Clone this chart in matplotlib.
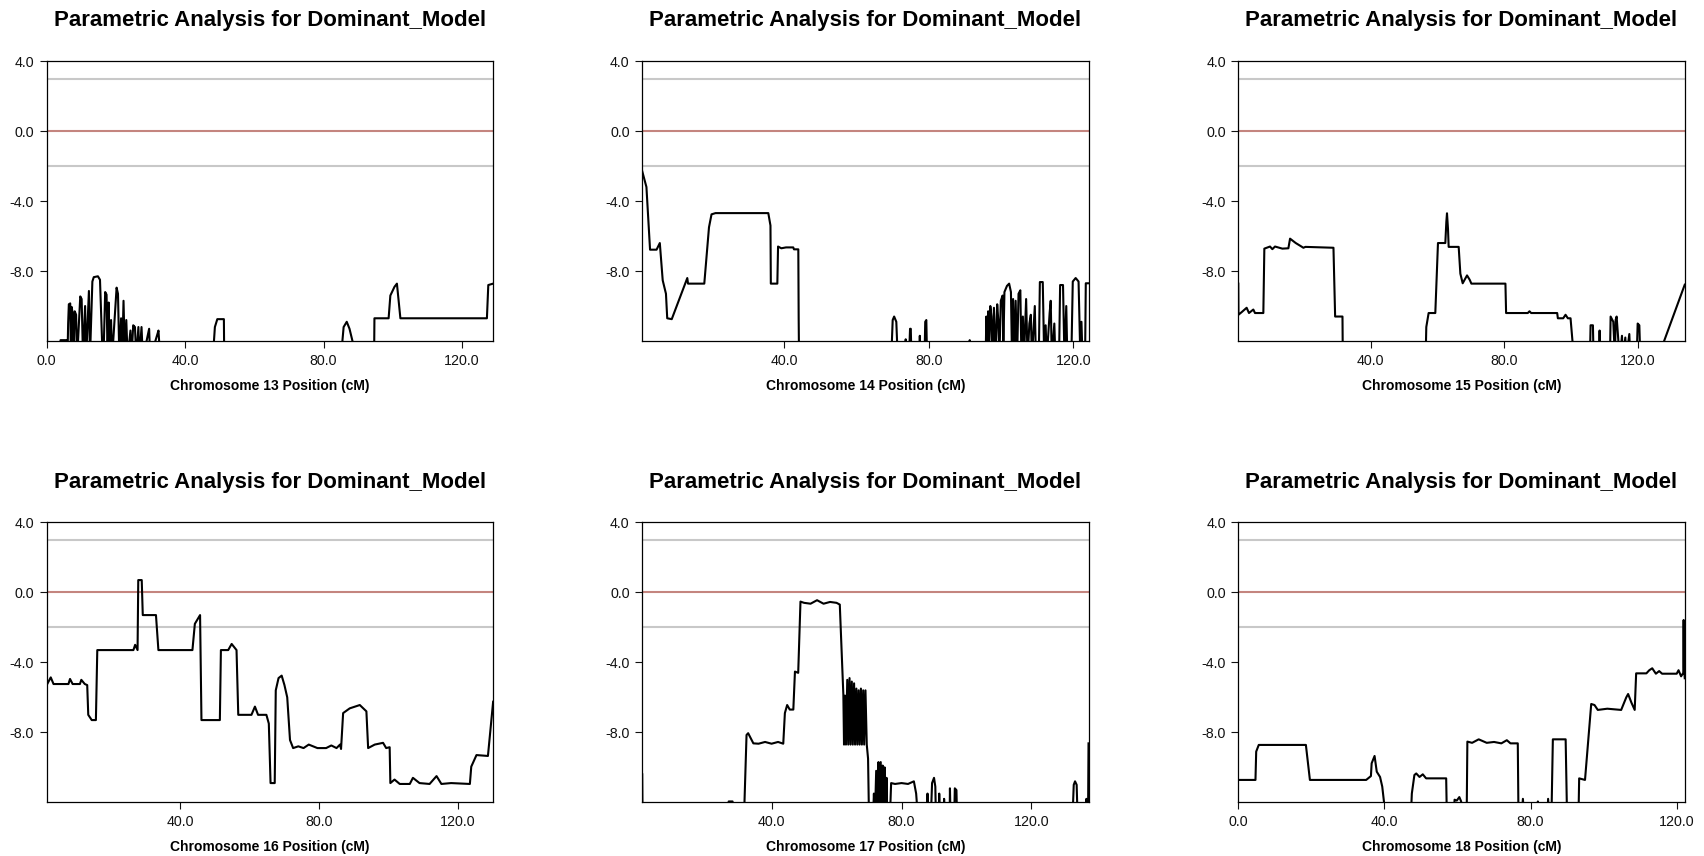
import matplotlib
matplotlib.use("Agg")
import matplotlib.pyplot as plt
from matplotlib.ticker import MultipleLocator, FormatStrFormatter

plt.rcParams["font.family"] = ["Liberation Sans", "DejaVu Sans"]

# LOD curves per chromosome (position in cM, LOD). Values below the plot floor are set to -13.
pos13 = [0.0, 0.15, 3.8, 4.0, 5.8, 6.0, 6.2, 6.4, 6.8, 7.0, 7.2, 7.5, 7.8, 8.1, 8.5, 8.8,
         9.7, 10.1, 10.5, 11.1, 11.4, 12.2, 12.5, 13.2, 13.6, 14.8, 15.4, 16.0, 16.4,
         16.9, 17.3, 17.6, 17.9, 18.2, 18.6, 18.9, 20.2, 20.6, 21.0, 21.5, 21.8, 22.2, 22.6,
         23.0, 23.4, 24.2, 24.5, 25.0, 25.5, 25.9, 26.5, 26.8, 27.4, 27.8, 29.6, 29.9,
         32.0, 32.3, 32.8, 48.0, 48.6, 49.3, 51.2, 51.3, 85.0, 85.8, 86.7, 87.5, 88.6, 88.9,
         94.6, 94.7, 98.8, 99.3, 100.5, 101.2, 102.2, 127.2, 127.6, 129.0]
lod13 = [-7.7, -13, -13, -11.95, -11.95, -13, -11.0, -9.9, -9.85, -13, -10.05, -10.4, -13, -10.3, -10.5, -13,
         -9.45, -9.6, -13, -10.0, -13, -9.14, -13, -8.6, -8.35, -8.3, -8.5, -12, -13,
         -9.2, -9.35, -13, -9.8, -13, -10.8, -13, -8.95, -9.3, -13, -10.7, -13, -9.7, -13,
         -10.8, -13, -11.4, -13, -11.1, -11.2, -13, -11.2, -13, -11.2, -13, -11.3, -13,
         -11.6, -11.4, -13, -13, -11.2, -10.75, -10.75, -13, -13, -11.2, -10.9, -11.3, -12.2, -13,
         -13, -10.7, -10.7, -9.4, -8.9, -8.72, -10.7, -10.7, -8.8, -8.72]

pos14 = [0.74, 1.9, 2.9, 4.7, 5.6, 6.4, 7.3, 7.65, 8.9, 13.2, 13.4, 17.9, 19.2, 19.9, 21.0,
         35.6, 36.2, 36.3, 38.1, 38.3, 39.2, 40.5, 42.5, 42.7, 43.9, 44.0, 44.1,
         69.6, 70.0, 70.4, 71.0, 71.4, 73.4, 73.6, 73.8, 74.5, 74.8, 75.0, 75.2, 77.4, 77.5, 77.6,
         78.8, 79.0, 79.3, 79.5, 91.2, 91.3, 91.5,
         95.7, 95.9, 96.1, 96.4, 96.6, 97.0, 97.3, 97.6, 98.0, 98.4, 98.9, 99.2, 99.5, 99.9,
         100.4, 100.6, 100.9, 101.6, 102.2, 102.7, 103.0, 103.3, 103.6, 104.0, 104.4, 104.8,
         105.3, 105.6, 106.0, 106.3, 106.9, 107.3, 107.8, 108.2, 108.5, 109.3, 109.6, 110.4,
         110.7, 111.5, 111.9, 112.3, 112.6, 113.4, 113.7, 114.0, 114.7, 115.0, 116.0, 116.3,
         117.1, 117.5, 118.0, 118.3, 119.4, 119.8, 120.6, 121.4, 121.9, 122.2, 122.5, 123.2,
         123.4, 124.2]
lod14 = [-2.3, -3.2, -6.78, -6.78, -6.4, -8.53, -9.3, -10.7, -10.75, -8.4, -8.72, -8.72, -5.5, -4.76, -4.69,
         -4.69, -5.4, -8.72, -8.72, -6.6, -6.7, -6.65, -6.65, -6.76, -6.76, -10.7, -13,
         -13, -10.8, -10.6, -10.9, -13, -13, -11.9, -13, -13, -11.3, -11.3, -13, -13, -11.7, -13,
         -13, -10.9, -10.8, -13, -13, -11.95, -13,
         -13, -10.6, -12.5, -10.3, -13, -10.0, -10.6, -13, -10.1, -13, -9.9, -10.8, -13, -9.7,
         -9.4, -12.5, -9.2, -8.85, -8.72, -9.2, -13, -9.6, -13, -9.7, -13, -9.3,
         -9.1, -13, -10.6, -13, -9.6, -13, -11.0, -10.5, -13, -10.0, -13, -13,
         -8.63, -8.63, -13, -11.1, -13, -10.4, -9.7, -13, -11.0, -13, -13, -8.8,
         -8.8, -13, -10.0, -13, -13, -8.6, -8.4, -8.6, -13, -10.9, -13, -13,
         -8.7, -8.7]

pos15 = [0.3, 0.35, 1.3, 2.8, 3.5, 4.8, 5.3, 7.8, 8.1, 9.8, 10.5, 11.3, 13.5, 15.3, 15.8, 17.5,
         19.8, 20.4, 28.8, 29.3, 31.5, 31.6,
         56.4, 56.6, 57.3, 59.3, 60.1, 62.3, 62.6, 62.8, 63.1, 63.3, 66.3, 66.8, 67.5, 68.8, 69.6,
         70.1, 80.3, 80.5, 87.0, 87.5, 88.0, 95.8, 96.0, 97.6, 98.3, 99.0, 99.8, 100.6, 100.8,
         105.6, 105.8, 106.5, 106.7, 108.4, 108.5, 108.6, 111.6, 111.8, 112.6, 113.1, 113.3, 113.6,
         114.2, 114.6, 115.2, 115.5, 116.2, 116.5, 117.4, 117.7, 119.6, 119.9, 120.4, 120.7,
         125.9, 134.0]
lod15 = [-8.72, -10.5, -10.35, -10.1, -10.4, -10.2, -10.4, -10.4, -6.72, -6.6, -6.75, -6.6, -6.72, -6.7, -6.15, -6.4,
         -6.67, -6.62, -6.67, -10.6, -10.6, -13,
         -13, -11.2, -10.4, -10.4, -6.4, -6.4, -5.2, -4.7, -5.6, -6.62, -6.62, -8.15, -8.7, -8.25, -8.5,
         -8.72, -8.72, -10.4, -10.4, -10.3, -10.4, -10.4, -10.7, -10.7, -10.5, -10.7, -10.7, -12.5, -13,
         -13, -11.1, -11.1, -13, -13, -11.4, -13, -13, -10.6, -10.9, -13, -10.8, -10.6,
         -12.2, -13, -11.7, -13, -11.8, -13, -11.6, -13, -13, -11.0, -11.1, -13,
         -13, -8.78]

pos16 = [1.53, 2.7, 3.5, 7.8, 8.25, 9.0, 11.1, 11.5, 12.5, 13.2, 13.5, 14.5, 15.7, 16.1, 26.5,
         27.0, 27.7, 27.9, 28.9, 29.2, 33.0, 33.7, 43.5, 44.2, 45.7, 46.1, 51.4, 51.7, 53.8,
         54.8, 56.2, 56.7, 60.5, 61.5, 62.4, 64.8, 65.5, 66.0, 67.2, 67.5, 68.3, 69.2, 70.0,
         70.8, 71.6, 72.5, 74.0, 75.5, 77.0, 79.5, 82.0, 83.5, 85.0, 86.0, 86.3, 86.9, 88.8,
         91.7, 93.6, 94.1, 96.0, 98.4, 99.3, 100.3, 100.5, 101.7, 103.2, 106.1, 107.0, 108.9,
         111.8, 113.8, 115.2, 118.0, 123.4, 123.8, 125.3, 128.6, 130.1]
lod16 = [-5.3, -4.86, -5.24, -5.24, -4.95, -5.24, -5.24, -5.0, -5.24, -5.3, -7.0, -7.3, -7.3, -3.3, -3.3,
         -3.0, -3.3, 0.7, 0.7, -1.3, -1.3, -3.3, -3.3, -1.8, -1.3, -7.3, -7.3, -3.3, -3.3,
         -2.95, -3.3, -7.0, -7.0, -6.53, -7.0, -7.0, -7.5, -10.9, -10.9, -5.6, -4.9, -4.76, -5.3,
         -6.0, -8.44, -8.9, -8.8, -8.9, -8.7, -8.9, -8.9, -8.75, -8.9, -8.7, -8.95, -6.9, -6.63,
         -6.44, -6.8, -8.9, -8.7, -8.6, -8.9, -8.85, -10.9, -10.7, -10.95, -10.95, -10.6, -10.9,
         -10.95, -10.5, -10.95, -10.9, -10.95, -9.96, -9.3, -9.35, -6.25]

pos17 = [0.2, 0.3, 26.6, 26.8, 28.0, 28.2, 31.5, 32.3, 32.8, 34.4, 36.0, 38.0, 40.0, 42.0, 43.6,
         44.1, 44.8, 45.6, 46.7, 47.2, 48.2, 48.9, 50.0, 52.0, 54.0, 56.0, 58.0, 60.0, 61.0,
         62.1, 62.3, 62.6, 62.9, 63.3, 63.6, 64.0, 64.3, 64.7, 65.0, 65.4, 65.7, 66.1, 66.4,
         66.8, 67.1, 67.5, 67.8, 68.2, 68.5, 68.9, 69.3, 69.7, 70.0,
         71.2, 71.5, 71.8, 72.2, 72.5, 72.9, 73.2, 73.6, 73.9, 74.2, 74.5, 74.8, 75.1, 75.4, 75.6,
         76.4, 76.8, 78.0, 80.0, 82.0, 83.8, 84.5, 85.1,
         87.9, 88.0, 88.1, 89.0, 89.4, 90.0, 90.4, 90.6, 91.5, 91.6, 91.8, 93.0, 93.1, 93.3,
         94.8, 94.9, 95.1, 96.2, 96.4, 96.9, 97.1,
         132.6, 133.0, 133.4, 133.9, 134.2, 136.6, 136.9, 137.1, 137.4, 137.55]
lod17 = [-10.4, -13, -13, -11.95, -11.95, -13, -13, -8.15, -8.05, -8.63, -8.65, -8.55, -8.65, -8.55, -8.65,
         -6.9, -6.44, -6.7, -6.7, -4.53, -4.6, -0.53, -0.6, -0.65, -0.45, -0.65, -0.55, -0.6, -0.7,
         -5.87, -8.7, -5.9, -8.7, -5.0, -8.7, -4.9, -8.7, -5.1, -8.7, -5.2, -8.7, -5.5, -8.7,
         -5.6, -8.7, -5.5, -8.7, -5.6, -8.7, -5.6, -8.7, -9.5, -13,
         -13, -11.5, -13, -10.2, -13, -9.7, -12.5, -9.7, -13, -9.9, -13, -10.0, -13, -10.6, -13,
         -13, -10.9, -10.95, -10.9, -10.95, -10.8, -11.5, -13,
         -13, -11.5, -13, -13, -10.9, -10.6, -11.1, -13, -13, -11.5, -13, -13, -11.8, -13,
         -13, -11.2, -13, -13, -11.2, -11.3, -13,
         -13, -11.0, -10.8, -11.0, -13, -13, -11.8, -13, -13, -8.63]

pos18 = [0.0, 4.7, 4.9, 5.6, 18.5, 19.6, 35.0, 36.3, 36.5, 37.3, 37.9, 38.8, 39.4, 40.0, 40.1,
         47.2, 47.5, 48.2, 48.7, 49.6, 50.5, 51.4, 56.9, 57.1,
         58.9, 59.2, 59.8, 60.5, 61.0, 61.2,
         62.5, 62.7, 64.0, 65.8, 68.0, 70.0, 72.0, 73.5, 74.5, 76.5, 76.7,
         77.5, 77.9, 78.3, 81.8, 82.0, 82.2, 84.6, 84.8, 85.2,
         85.7, 86.1, 89.6, 90.0,
         93.1, 93.3, 94.9, 96.6, 97.5, 98.4, 101.0, 104.8, 106.2, 106.7, 107.6, 108.5, 108.9,
         111.7, 112.5, 113.3, 114.3, 115.2, 116.0, 120.0, 120.5, 121.2, 121.8, 121.9, 122.0, 122.2]
lod18 = [-10.72, -10.72, -9.1, -8.72, -8.72, -10.72, -10.72, -10.5, -9.77, -9.35, -10.25, -10.55, -11.1, -12.2, -13,
         -13, -11.5, -10.44, -10.35, -10.55, -10.4, -10.63, -10.63, -13,
         -13, -11.85, -11.9, -11.7, -11.95, -13,
         -13, -8.53, -8.6, -8.4, -8.6, -8.55, -8.63, -8.45, -8.63, -8.63, -13,
         -13, -11.8, -13, -13, -11.95, -13, -13, -11.8, -13,
         -13, -8.4, -8.4, -13,
         -13, -10.63, -10.72, -6.38, -6.44, -6.72, -6.65, -6.72, -6.0, -5.81, -6.3, -6.72, -4.63,
         -4.63, -4.45, -4.34, -4.65, -4.5, -4.65, -4.65, -4.45, -4.8, -4.6, -1.58, -4.3, -4.91]

chromosomes = [13, 14, 15, 16, 17, 18]
positions = [pos13, pos14, pos15, pos16, pos17, pos18]
lods = [lod13, lod14, lod15, lod16, lod17, lod18]
x_limits = [(0.0, 129.0), (0.74, 124.2), (0.3, 134.0), (1.53, 130.1), (0.2, 137.6), (0.0, 122.2)]

upper_line = 3.0
zero_line = 0.0
lower_line = -2.0

fig = plt.figure(figsize=(17.04, 8.56), dpi=100)
lefts = [0.0274, 0.3769, 0.7267]
bottoms = [0.6016, 0.0627]
width, height = 0.2620, 0.3271

for i, (chrom, x, y, xl) in enumerate(zip(chromosomes, positions, lods, x_limits)):
    ax = fig.add_axes([lefts[i % 3], bottoms[i // 3], width, height])
    ax.axhline(upper_line, color="#c8c8c8", lw=1.5, zorder=1)
    ax.axhline(lower_line, color="#c8c8c8", lw=1.5, zorder=1)
    ax.axhline(zero_line, color="#c4857f", lw=1.5, zorder=1)
    ax.plot(x, y, color="black", lw=1.5, zorder=2)
    ax.set_xlim(*xl)
    ax.set_ylim(-12, 4)
    ax.set_yticks([-8, -4, 0, 4])
    ax.xaxis.set_major_locator(MultipleLocator(40))
    ax.xaxis.set_major_formatter(FormatStrFormatter("%.1f"))
    ax.yaxis.set_major_formatter(FormatStrFormatter("%.1f"))
    ax.tick_params(labelsize=10.3, length=5, width=0.8, pad=4, colors="#111111")
    for sp in ax.spines.values():
        sp.set_linewidth(0.9)
    ax.set_title("Parametric Analysis for Dominant_Model", fontsize=16, fontweight="bold", pad=25)
    ax.set_xlabel(f"Chromosome {chrom} Position (cM)", fontsize=10, fontweight="bold", labelpad=8)

fig.savefig("out.png", dpi=100)
